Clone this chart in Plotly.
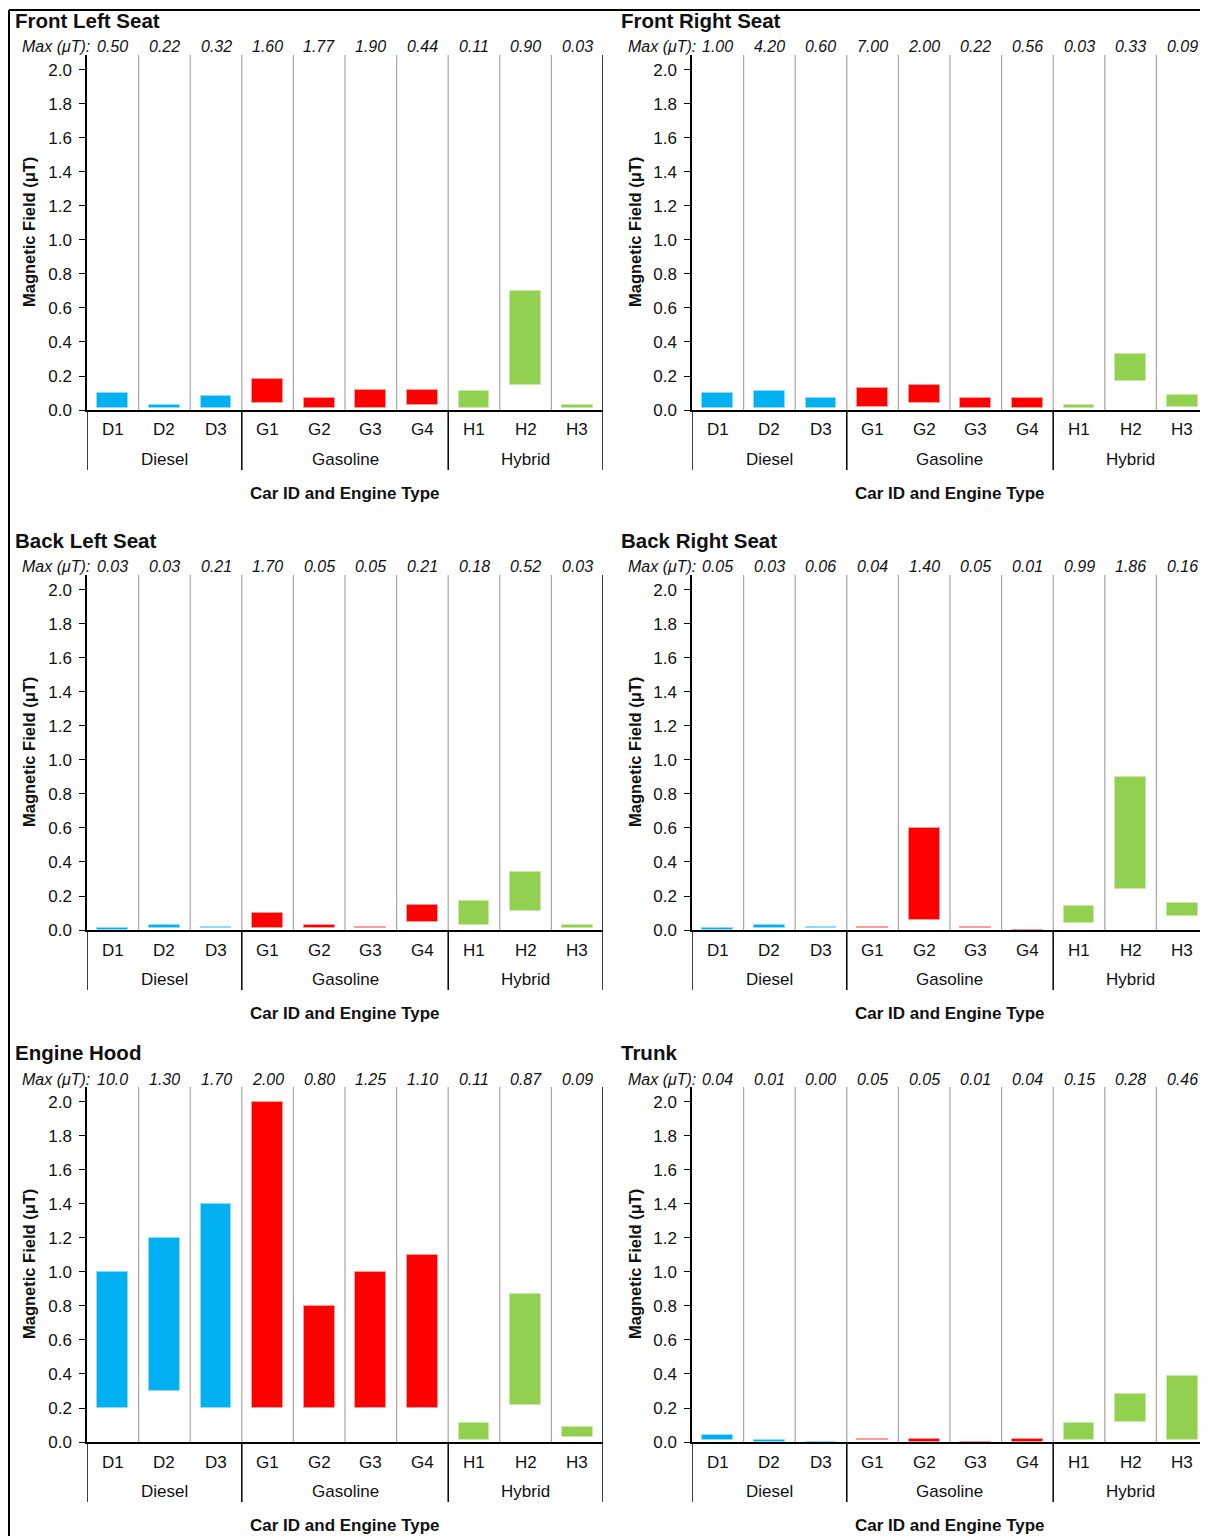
import plotly.graph_objects as go

# ---------------- data ----------------
cars = ["D1", "D2", "D3", "G1", "G2", "G3", "G4", "H1", "H2", "H3"]
engine_types = ["Diesel", "Diesel", "Diesel", "Gasoline", "Gasoline", "Gasoline", "Gasoline",
                "Hybrid", "Hybrid", "Hybrid"]
group_names = ["Diesel", "Gasoline", "Hybrid"]
group_colors = {"Diesel": "#00B0F0", "Gasoline": "#FF0000", "Hybrid": "#92D050"}
y_ticks = [0.0, 0.2, 0.4, 0.6, 0.8, 1.0, 1.2, 1.4, 1.6, 1.8, 2.0]

front_left_low = [0.01, 0.01, 0.01, 0.04, 0.01, 0.01, 0.03, 0.01, 0.15, 0.01]
front_left_high = [0.10, 0.03, 0.08, 0.18, 0.07, 0.12, 0.12, 0.11, 0.70, 0.03]
front_left_max = ["0.50", "0.22", "0.32", "1.60", "1.77", "1.90", "0.44", "0.11", "0.90", "0.03"]

front_right_low = [0.01, 0.01, 0.01, 0.02, 0.04, 0.01, 0.01, 0.01, 0.17, 0.02]
front_right_high = [0.10, 0.11, 0.07, 0.13, 0.15, 0.07, 0.07, 0.03, 0.33, 0.09]
front_right_max = ["1.00", "4.20", "0.60", "7.00", "2.00", "0.22", "0.56", "0.03", "0.33", "0.09"]

back_left_low = [0.00, 0.01, 0.01, 0.01, 0.01, 0.01, 0.05, 0.03, 0.11, 0.01]
back_left_high = [0.01, 0.03, 0.02, 0.10, 0.03, 0.02, 0.15, 0.17, 0.34, 0.03]
back_left_max = ["0.03", "0.03", "0.21", "1.70", "0.05", "0.05", "0.21", "0.18", "0.52", "0.03"]

back_right_low = [0.00, 0.01, 0.01, 0.01, 0.06, 0.01, 0.00, 0.04, 0.24, 0.08]
back_right_high = [0.01, 0.03, 0.02, 0.02, 0.60, 0.02, 0.00, 0.14, 0.90, 0.16]
back_right_max = ["0.05", "0.03", "0.06", "0.04", "1.40", "0.05", "0.01", "0.99", "1.86", "0.16"]

engine_hood_low = [0.20, 0.30, 0.20, 0.20, 0.20, 0.20, 0.20, 0.01, 0.22, 0.03]
engine_hood_high = [1.00, 1.20, 1.40, 2.00, 0.80, 1.00, 1.10, 0.11, 0.87, 0.09]
engine_hood_max = ["10.0", "1.30", "1.70", "2.00", "0.80", "1.25", "1.10", "0.11", "0.87", "0.09"]

trunk_low = [0.01, 0.00, 0.00, 0.01, 0.00, 0.00, 0.00, 0.01, 0.12, 0.01]
trunk_high = [0.04, 0.01, 0.00, 0.02, 0.02, 0.00, 0.02, 0.11, 0.28, 0.39]
trunk_max = ["0.04", "0.01", "0.00", "0.05", "0.05", "0.01", "0.04", "0.15", "0.28", "0.46"]

panels = [
    ("Front Left Seat", front_left_low, front_left_high, front_left_max),
    ("Front Right Seat", front_right_low, front_right_high, front_right_max),
    ("Back Left Seat", back_left_low, back_left_high, back_left_max),
    ("Back Right Seat", back_right_low, back_right_high, back_right_max),
    ("Engine Hood", engine_hood_low, engine_hood_high, engine_hood_max),
    ("Trunk", trunk_low, trunk_high, trunk_max),
]

# ---------------- layout helpers ----------------
PAGE_OFF = 8  # default page margin
W, H = 1200, 1528
FONT = "Liberation Sans, Arial, sans-serif"
INK = "#111111"


def px(x):
    return (x - PAGE_OFF) / W


def py(y):
    return 1 - (y - PAGE_OFF) / H


col_left = [87, 692]
col_title_x = [13, 619]
col_max_x = [20, 626]
col_ytitle_x = [29, 635]
plot_w = 516
row_off = [0, 520, 1032]

fig = go.Figure()
annotations = []
shapes = []
layout_axes = {}

bar_colors = [group_colors[g] for g in engine_types]
edge_colors = {"Diesel": "#8fdcf8", "Gasoline": "#ff9a9a", "Hybrid": "#c9e8a8"}
bar_edges = [edge_colors[g] for g in engine_types]

# group boundaries (in category index units)
group_bounds = []
start = 0
for g in group_names:
    cnt = engine_types.count(g)
    group_bounds.append((start - 0.5, start + cnt - 0.5, g))
    start += cnt

for i, (title, low, high, mx) in enumerate(panels):
    n = i + 1
    col = i % 2
    row = i // 2
    off = row_off[row]
    xname = "x" if n == 1 else f"x{n}"
    yname = "y" if n == 1 else f"y{n}"
    xkey = "xaxis" if n == 1 else f"xaxis{n}"
    ykey = "yaxis" if n == 1 else f"yaxis{n}"
    left = col_left[col]

    heights = [h - l for h, l in zip(high, low)]
    fig.add_trace(go.Bar(
        x=cars, y=heights, base=low, xaxis=xname, yaxis=yname,
        width=0.6,
        marker=dict(color=bar_colors, line=dict(color=bar_edges, width=1)),
        showlegend=False, hoverinfo="skip",
    ))

    layout_axes[xkey] = dict(
        domain=[px(left), px(left + plot_w)], anchor=yname, type="category",
        range=[-0.5, 9.5], showticklabels=False, ticks="", showgrid=False,
        zeroline=False, showline=True, linecolor="#000", linewidth=1.5,
        fixedrange=True, automargin=False,
    )
    layout_axes[ykey] = dict(
        domain=[py(410 + off), py(55 + off)], anchor=xname,
        range=[0, 2.088], tickvals=y_ticks, ticktext=[f"{v:.1f}" for v in y_ticks],
        ticks="outside", ticklen=6, tickwidth=1, tickcolor="#000",
        ticklabelstandoff=4,
        tickfont=dict(size=17, color=INK, family=FONT),
        showgrid=False, zeroline=False, showline=True, linecolor="#000", linewidth=1.5,
        fixedrange=True, automargin=False,
    )

    # panel title
    annotations.append(dict(text=f"<b>{title}</b>", x=px(col_title_x[col]), y=py(20 + off),
                            xref="paper", yref="paper", xanchor="left", yanchor="middle",
                            showarrow=False, font=dict(size=20.5, color=INK, family=FONT)))
    # Max row
    annotations.append(dict(text="<i>Max (μT):</i>", x=px(col_max_x[col]), y=py(47 + off),
                            xref="paper", yref="paper", xanchor="left", yanchor="middle",
                            showarrow=False, font=dict(size=16, color=INK, family=FONT)))
    for c, m in zip(cars, mx):
        annotations.append(dict(text=f"<i>{m}</i>", x=c, y=py(47 + off),
                                xref=xname, yref="paper", xanchor="center", yanchor="middle",
                                showarrow=False, font=dict(size=16, color=INK, family=FONT)))
    # category labels
    for c in cars:
        annotations.append(dict(text=c, x=c, y=py(430 + off), xref=xname, yref="paper",
                                xanchor="center", yanchor="middle", showarrow=False,
                                font=dict(size=17, color=INK, family=FONT)))
    # group labels and dividers
    for g0, g1, g in group_bounds:
        annotations.append(dict(text=g, x=(g0 + g1) / 2, y=py(459 + off), xref=xname,
                                yref="paper", xanchor="center", yanchor="middle",
                                showarrow=False, font=dict(size=17, color=INK, family=FONT)))
    divs = sorted(set([b[0] for b in group_bounds] + [b[1] for b in group_bounds]))
    for d in divs:
        shapes.append(dict(type="line", xref=xname, yref="paper", x0=d, x1=d,
                           y0=py(410 + off), y1=py(470 + off),
                           line=dict(color="#000", width=1.5)))
    # right border of plot
    shapes.append(dict(type="line", xref=xname, yref=f"{yname} domain", x0=9.5, x1=9.5,
                       y0=0, y1=1, line=dict(color="#000", width=1.5)))
    # gray separators between cars
    for k in range(len(cars) - 1):
        xs = k + 0.5
        shapes.append(dict(type="line", xref=xname, yref=f"{yname} domain", x0=xs, x1=xs,
                           y0=0, y1=1, line=dict(color="#a6a6a6", width=1.2)))
    # x axis title
    annotations.append(dict(text="<b>Car ID and Engine Type</b>", x=4.5, y=py(493 + off),
                            xref=xname, yref="paper", xanchor="center", yanchor="middle",
                            showarrow=False, font=dict(size=17, color=INK, family=FONT)))
    # y axis title
    annotations.append(dict(text="<b>Magnetic Field (μT)</b>", x=px(col_ytitle_x[col]),
                            y=py(232 + off), xref="paper", yref="paper", xanchor="center",
                            yanchor="middle", textangle=-90, showarrow=False,
                            font=dict(size=16.5, color=INK, family=FONT)))

# outer frame (top and left edges visible)
shapes.append(dict(type="line", xref="paper", yref="paper", x0=px(9), x1=1.0,
                   y0=py(10), y1=py(10), line=dict(color="#000", width=2)))
shapes.append(dict(type="line", xref="paper", yref="paper", x0=px(9), x1=px(9),
                   y0=py(10), y1=0.0, line=dict(color="#000", width=2)))

fig.update_layout(
    width=W, height=H,
    margin=dict(l=0, r=0, t=0, b=0, pad=0, autoexpand=False),
    paper_bgcolor="white", plot_bgcolor="white",
    font=dict(family=FONT, color=INK),
    annotations=annotations, shapes=shapes, showlegend=False, bargap=0,
    **layout_axes,
)

fig.write_html("out.html")
